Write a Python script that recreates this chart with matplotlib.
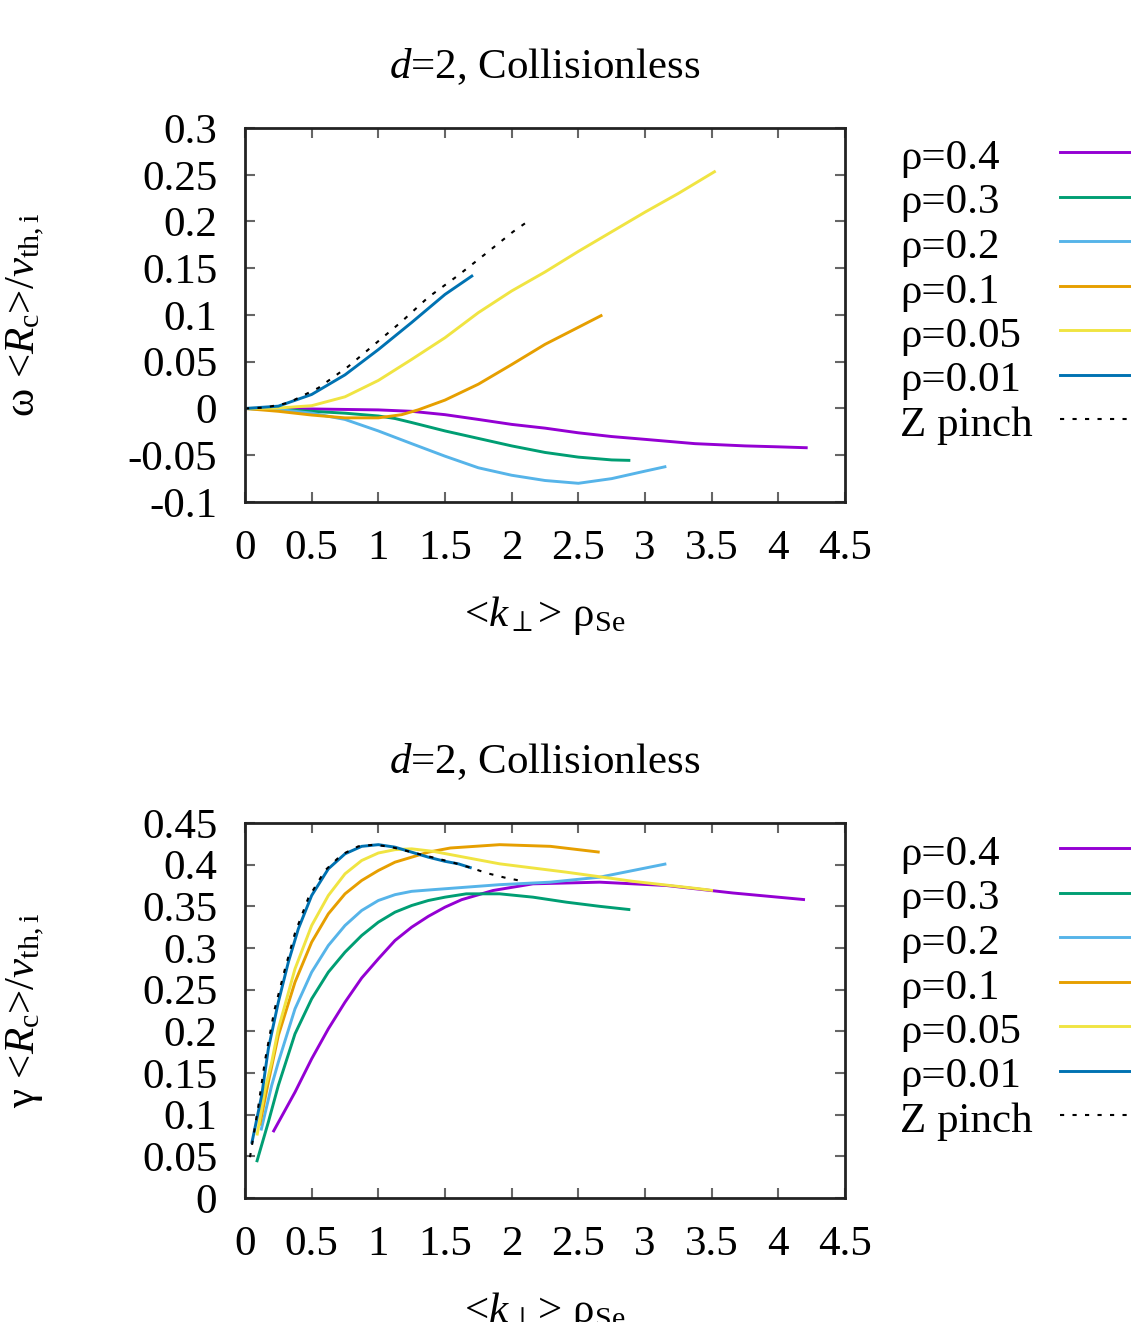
import numpy as np
import matplotlib
matplotlib.use("Agg")
import matplotlib.pyplot as plt
from matplotlib.lines import Line2D

plt.rcParams["font.family"] = ["Liberation Serif", "DejaVu Serif"]
plt.rcParams["mathtext.fontset"] = "custom"
plt.rcParams["mathtext.rm"] = "Liberation Serif"
plt.rcParams["mathtext.it"] = "Liberation Serif:italic"

# ---------------------------------------------------------
# DATA  (x = <k_perp> rho_Se)
# ---------------------------------------------------------

labels = ["ρ=0.4", "ρ=0.3", "ρ=0.2", "ρ=0.1", "ρ=0.05", "ρ=0.01", "Z pinch"]
colors = ["#9400d3", "#009e73", "#56b4e9", "#e69f00", "#f0e442", "#0072b2", "black"]

# real frequency  omega <R_c>/v_th,i
om_x_04 = [0, 0.5, 1.0, 1.25, 1.5, 1.75, 2.0, 2.25, 2.5, 2.75, 3.0, 3.375, 3.75, 4.0, 4.22]
om_y_04 = [0, -0.0005, -0.0015, -0.003, -0.0066, -0.0117, -0.017, -0.021, -0.026, -0.030, -0.033, -0.0376, -0.040, -0.041, -0.042]
om_x_03 = [0, 0.25, 0.5, 0.75, 1.0, 1.125, 1.25, 1.5, 1.75, 2.0, 2.25, 2.5, 2.75, 2.89]
om_y_03 = [0, -0.001, -0.003, -0.005, -0.008, -0.0107, -0.015, -0.024, -0.032, -0.040, -0.047, -0.052, -0.055, -0.0555]
om_x_02 = [0, 0.25, 0.5, 0.75, 1.0, 1.25, 1.5, 1.75, 2.0, 2.25, 2.5, 2.75, 3.0, 3.16]
om_y_02 = [0, -0.001, -0.005, -0.0117, -0.024, -0.0376, -0.051, -0.0634, -0.0714, -0.077, -0.080, -0.075, -0.067, -0.062]
om_x_01 = [0, 0.25, 0.5, 0.75, 1.0, 1.175, 1.3, 1.5, 1.75, 2.0, 2.25, 2.475, 2.68]
om_y_01 = [0, -0.003, -0.007, -0.010, -0.010, -0.0066, -0.0014, 0.009, 0.026, 0.047, 0.0686, 0.085, 0.100]
om_x_005 = [0, 0.25, 0.5, 0.75, 1.0, 1.25, 1.5, 1.75, 2.0, 2.25, 2.5, 2.75, 3.0, 3.25, 3.53]
om_y_005 = [0, 0.0005, 0.003, 0.0125, 0.030, 0.0525, 0.0757, 0.1025, 0.1257, 0.146, 0.168, 0.189, 0.210, 0.230, 0.254]
om_x_001 = [0, 0.25, 0.5, 0.75, 1.0, 1.25, 1.5, 1.71]
om_y_001 = [0, 0.0025, 0.015, 0.036, 0.063, 0.092, 0.122, 0.1425]
om_x_z = [0, 0.15, 0.325, 0.55, 0.775, 0.975, 1.175, 1.375, 1.6, 1.8, 2.01, 2.12]
om_y_z = [0, 0.001, 0.006, 0.022, 0.045, 0.069, 0.093, 0.119, 0.1425, 0.165, 0.189, 0.200]

# growth rate  gamma <R_c>/v_th,i
ga_x_04 = [0.21, 0.375, 0.5, 0.625, 0.75, 0.875, 1.0, 1.125, 1.25, 1.375, 1.5, 1.625, 1.86, 2.16, 2.66, 3.16, 3.66, 4.2]
ga_y_04 = [0.079, 0.127, 0.167, 0.203, 0.235, 0.264, 0.287, 0.309, 0.325, 0.338, 0.349, 0.358, 0.369, 0.377, 0.379, 0.375, 0.366, 0.358]
ga_x_03 = [0.0875, 0.175, 0.25, 0.375, 0.5, 0.625, 0.75, 0.875, 1.0, 1.125, 1.25, 1.375, 1.5, 1.66, 1.91, 2.16, 2.41, 2.66, 2.89]
ga_y_03 = [0.043, 0.091, 0.135, 0.197, 0.239, 0.271, 0.295, 0.315, 0.331, 0.343, 0.351, 0.357, 0.361, 0.365, 0.365, 0.361, 0.355, 0.350, 0.346]
ga_x_02 = [0.12, 0.2, 0.25, 0.375, 0.5, 0.625, 0.75, 0.875, 1.0, 1.125, 1.25, 1.41, 1.66, 1.91, 2.29, 2.66, 2.91, 3.16]
ga_y_02 = [0.081, 0.135, 0.163, 0.227, 0.271, 0.303, 0.327, 0.345, 0.357, 0.364, 0.368, 0.370, 0.373, 0.376, 0.379, 0.385, 0.393, 0.401]
ga_x_01 = [0.11, 0.175, 0.25, 0.375, 0.5, 0.625, 0.75, 0.875, 1.0, 1.125, 1.25, 1.375, 1.54, 1.91, 2.29, 2.66]
ga_y_01 = [0.087, 0.139, 0.195, 0.259, 0.307, 0.341, 0.365, 0.381, 0.393, 0.403, 0.409, 0.415, 0.420, 0.424, 0.422, 0.415]
ga_x_005 = [0.09, 0.15, 0.2, 0.25, 0.375, 0.5, 0.625, 0.75, 0.875, 1.0, 1.125, 1.25, 1.41, 1.91, 2.41, 2.91, 3.41, 3.51]
ga_y_005 = [0.075, 0.130, 0.163, 0.203, 0.275, 0.327, 0.363, 0.389, 0.405, 0.414, 0.418, 0.419, 0.416, 0.401, 0.391, 0.380, 0.371, 0.369]
ga_x_001 = [0.05, 0.125, 0.175, 0.25, 0.325, 0.4, 0.5, 0.625, 0.75, 0.875, 1.0, 1.125, 1.25, 1.375, 1.5, 1.6, 1.7]
ga_y_001 = [0.065, 0.123, 0.179, 0.235, 0.283, 0.323, 0.363, 0.395, 0.413, 0.422, 0.424, 0.421, 0.415, 0.409, 0.404, 0.401, 0.396]
ga_x_z = [0.0375, 0.1, 0.15, 0.22, 0.3, 0.375, 0.475, 0.6, 0.725, 0.85, 0.975, 1.1, 1.25, 1.4, 1.55, 1.7, 1.81, 1.96, 2.09]
ga_y_z = [0.049, 0.110, 0.165, 0.225, 0.275, 0.318, 0.360, 0.393, 0.412, 0.422, 0.424, 0.421, 0.415, 0.409, 0.403, 0.396, 0.390, 0.384, 0.380]

omega_series = [(om_x_04, om_y_04), (om_x_03, om_y_03), (om_x_02, om_y_02), (om_x_01, om_y_01),
                (om_x_005, om_y_005), (om_x_001, om_y_001), (om_x_z, om_y_z)]
gamma_series = [(ga_x_04, ga_y_04), (ga_x_03, ga_y_03), (ga_x_02, ga_y_02), (ga_x_01, ga_y_01),
                (ga_x_005, ga_y_005), (ga_x_001, ga_y_001), (ga_x_z, ga_y_z)]

x_ticks = [0, 0.5, 1, 1.5, 2, 2.5, 3, 3.5, 4, 4.5]
x_ticklabels = ["0", "0.5", "1", "1.5", "2", "2.5", "3", "3.5", "4", "4.5"]
om_ticks = [-0.1, -0.05, 0, 0.05, 0.1, 0.15, 0.2, 0.25, 0.3]
om_ticklabels = ["-0.1", "-0.05", "0", "0.05", "0.1", "0.15", "0.2", "0.25", "0.3"]
ga_ticks = [0, 0.05, 0.1, 0.15, 0.2, 0.25, 0.3, 0.35, 0.4, 0.45]
ga_ticklabels = ["0", "0.05", "0.1", "0.15", "0.2", "0.25", "0.3", "0.35", "0.4", "0.45"]

# ---------------------------------------------------------
# PLOT
# ---------------------------------------------------------

W, H = 1131, 1322
FS = 31
fig = plt.figure(figsize=(W / 100, H / 100), dpi=100)


def fx(px):
    return px / W


def fy(py):
    return 1 - py / H


def panel(top, bottom, series, ylim, yticks, yticklabels, ylabel, legend_y0):
    ax = fig.add_axes([fx(245), fy(bottom), fx(845) - fx(245), fy(top) - fy(bottom)])
    for (x, y), c in zip(series[:-1], colors[:-1]):
        ax.plot(x, y, color=c, lw=2.1, solid_capstyle="butt", solid_joinstyle="round")
    zx, zy = series[-1]
    ax.plot(zx, zy, color="black", lw=1.5, dashes=(2, 4))

    ax.set_xlim(0, 4.5)
    ax.set_ylim(*ylim)
    ax.set_xticks(x_ticks)
    ax.set_xticklabels(x_ticklabels)
    ax.set_yticks(yticks)
    ax.set_yticklabels(yticklabels)
    ax.tick_params(direction="in", top=True, right=True, length=7, width=1.5,
                   color="#666666", labelsize=FS, pad=20)
    for s in ax.spines.values():
        s.set_linewidth(2.0)
        s.set_color("#222222")

    ax.set_title(r"$d$=2, Collisionless", fontsize=FS, pad=36)
    ax.set_ylabel(ylabel, fontsize=FS)
    ax.yaxis.set_label_coords(-0.33, 0.5)
    ax.set_xlabel(r"<$k_\perp$> ρ$_{\rm Se}$", fontsize=FS)
    ax.xaxis.set_label_coords(0.5, -0.245)

    # key outside the frame on the right
    for i, (lab, c) in enumerate(zip(labels, colors)):
        ly = legend_y0 + i * 44.5
        fig.text(fx(900), fy(ly + 17), lab, fontsize=FS, va="baseline", ha="left")
        if lab == "Z pinch":
            fig.add_artist(Line2D([fx(1060), 1.02], [fy(ly), fy(ly)], color="black",
                                  lw=1.5, dashes=(2, 4), transform=fig.transFigure))
        else:
            fig.add_artist(Line2D([fx(1060), 1.02], [fy(ly), fy(ly)], color=c,
                                  lw=2.1, transform=fig.transFigure))
    return ax


panel(128, 502, omega_series, (-0.1, 0.3), om_ticks, om_ticklabels,
      r"ω <$R_{\rm c}$>/$v_{\rm th,i}$", 152)
panel(823, 1198, gamma_series, (0, 0.45), ga_ticks, ga_ticklabels,
      r"γ <$R_{\rm c}$>/$v_{\rm th,i}$", 848)

fig.savefig("out.png", dpi=100)
